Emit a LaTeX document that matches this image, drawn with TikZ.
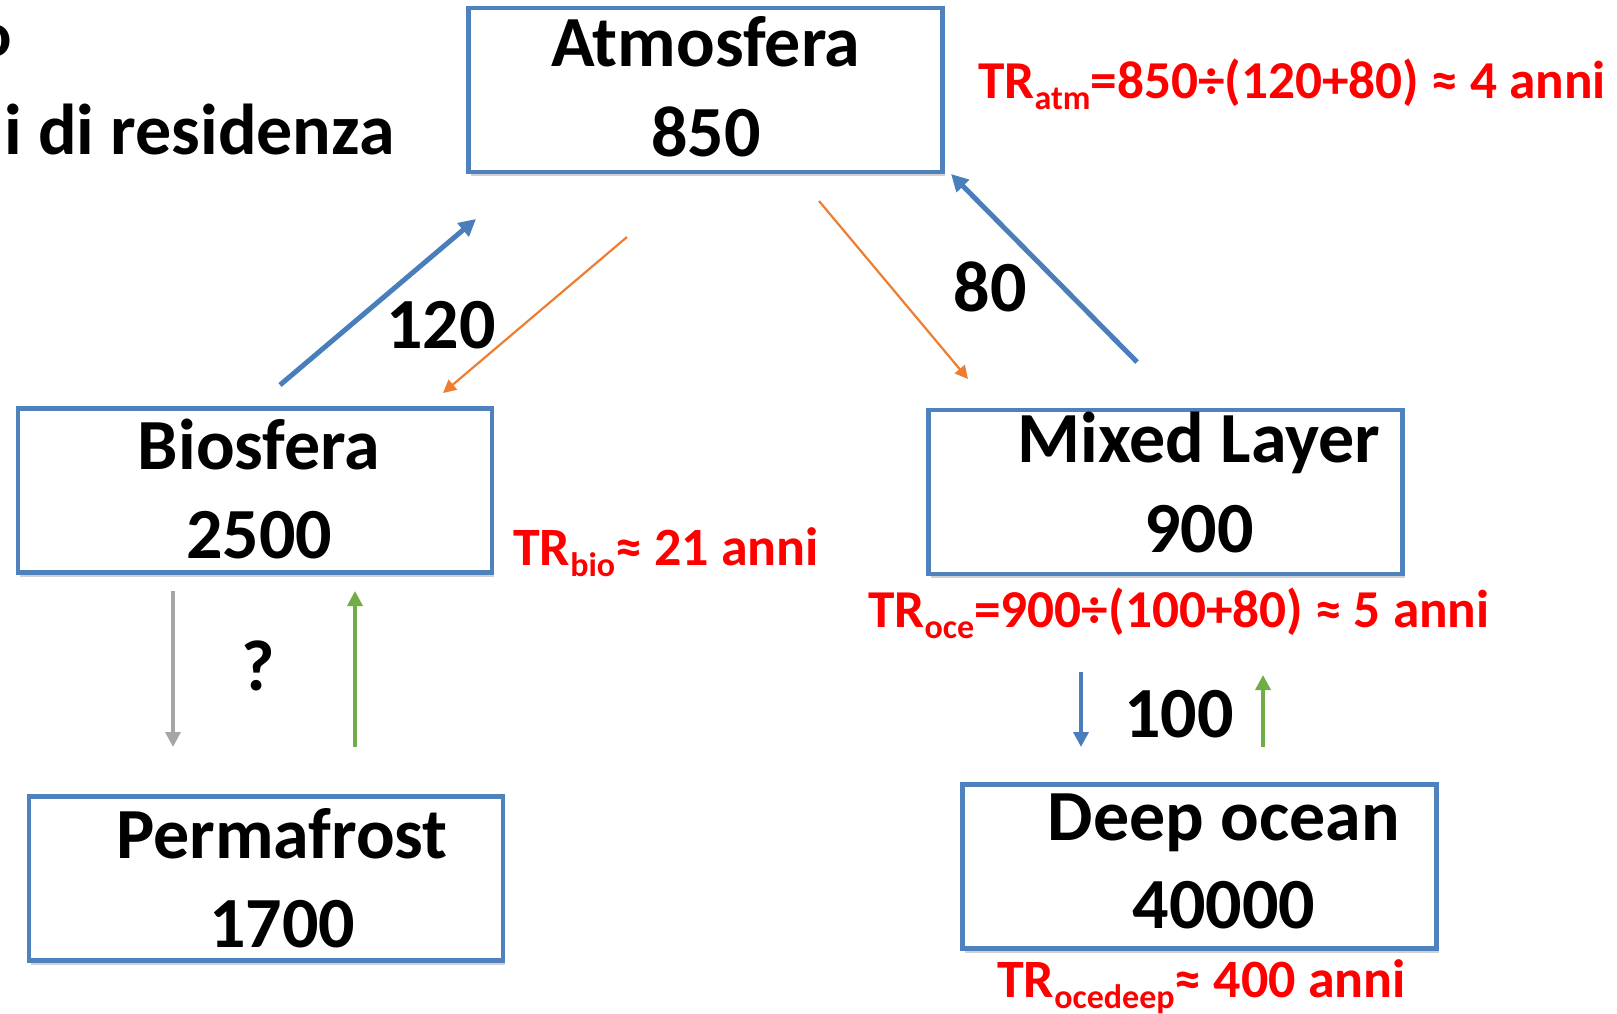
\documentclass[tikz,border=0pt]{standalone}
\usepackage{fontspec}
\setmainfont{Carlito}
\usetikzlibrary{arrows.meta,shadows}
\definecolor{boxblue}{HTML}{4F81BD}
\definecolor{arrblue}{HTML}{4A7EBB}
\definecolor{arrorange}{HTML}{ED7D31}
\definecolor{arrgray}{HTML}{A5A5A5}
\definecolor{arrgreen}{HTML}{70AD47}
\definecolor{trred}{HTML}{FF0000}
\newcommand{\mysub}[1]{\raisebox{-11pt}{\fontsize{34}{34}\selectfont #1}}
\tikzset{
  cbox/.style={draw=boxblue, line width=4.5pt, fill=white, minimum width=474pt, minimum height=164pt, inner sep=0pt,
    drop shadow={shadow xshift=2pt, shadow yshift=-4pt, opacity=0.3, fill=black!60}},
  big/.style={font=\fontsize{72}{86}\selectfont\bfseries, inner sep=0pt, anchor=base, text=black},
  trtext/.style={font=\fontsize{54}{60}\selectfont\bfseries, inner sep=0pt, anchor=base west, text=trred},
  trlong/.style={trtext, font=\fontsize{53.3}{60}\selectfont\bfseries},
  thickflow/.style={draw=arrblue, line width=5pt, -{Triangle[length=17pt,width=17pt]}},
  thinflow/.style={line width=2.2pt, -{Triangle[length=13pt,width=13pt]}},
  midflow/.style={line width=3.5pt, -{Triangle[length=15pt,width=15pt]}}
}
\begin{document}
\begin{tikzpicture}[x=1pt,y=-1pt]
\useasboundingbox (0,0) rectangle (1617,1014);

% title fragments
\node[big, anchor=base east, font=\fontsize{64}{70}\selectfont\bfseries] (titleA) at (12,57) {o};
\node[big, anchor=base east] (titleB) at (395,155) {i di residenza};

% boxes
\node[cbox] (atm) at (705.5,90) {};
\node[cbox] (bio) at (255,490.5) {};
\node[cbox] (mix) at (1165.5,492) {};
\node[cbox] (perm) at (266,878.5) {};
\node[cbox] (deep) at (1199.5,866.5) {};

% box texts
\node[big] (atmname) at (706,67) {Atmosfera};
\node[big] (atmval) at (706,157) {850};
\node[big] (bioname) at (259,469) {Biosfera};
\node[big] (bioval) at (259,558) {2500};
\node[big] (mixname) at (1199,462) {Mixed Layer};
\node[big] (mixval) at (1199,552) {900};
\node[big] (permname) at (282,858) {Permafrost};
\node[big] (permval) at (282,947) {1700};
\node[big] (deepname) at (1224,840) {Deep ocean};
\node[big] (deepval) at (1224,928) {40000};

% residence times
\node[trlong] (tratm) at (978,99) {TR\mysub{atm}=850÷(120+80) ≈ 4 anni};
\node[trtext] (trbio) at (513,565) {TR\mysub{bio}≈ 21 anni};
\node[trlong] (troce) at (868,627) {TR\mysub{oce}=900÷(100+80) ≈ 5 anni};
\node[trtext] (trdeep) at (997,997) {TR\mysub{ocedeep}≈ 400 anni};

% flux labels
\node[big] (f120) at (441,348) {120};
\node[big] (f80) at (990,311) {80};
\node[big] (fq) at (258,690) {?};
\node[big] (f100) at (1179,737) {100};

% connector end points
\coordinate (bioUpS) at (280,385);
\coordinate (atmBioE) at (476,219);
\coordinate (atmDownS) at (627,237);
\coordinate (bioDownE) at (443,393);
\coordinate (atmMixS) at (819,201);
\coordinate (mixInE) at (968,379);
\coordinate (mixUpS) at (1137,362);
\coordinate (atmMixE) at (951,174);
\coordinate (bioPermS) at (173,591);
\coordinate (permInE) at (173,747);
\coordinate (permUpS) at (355,747);
\coordinate (bioInE) at (355,591);
\coordinate (mixDeepS) at (1081,672);
\coordinate (deepInE) at (1081,747);
\coordinate (deepUpS) at (1263,747);
\coordinate (mixInE2) at (1263,675);

% connectors
\draw[thickflow] (bioUpS) -- (atmBioE);
\draw[thinflow, draw=arrorange] (atmDownS) -- (bioDownE);
\draw[thinflow, draw=arrorange] (atmMixS) -- (mixInE);
\draw[thickflow] (mixUpS) -- (atmMixE);
\draw[midflow, draw=arrgray] (bioPermS) -- (permInE);
\draw[midflow, draw=arrgreen] (permUpS) -- (bioInE);
\draw[midflow, draw=arrblue] (mixDeepS) -- (deepInE);
\draw[midflow, draw=arrgreen] (deepUpS) -- (mixInE2);
\end{tikzpicture}
\end{document}
